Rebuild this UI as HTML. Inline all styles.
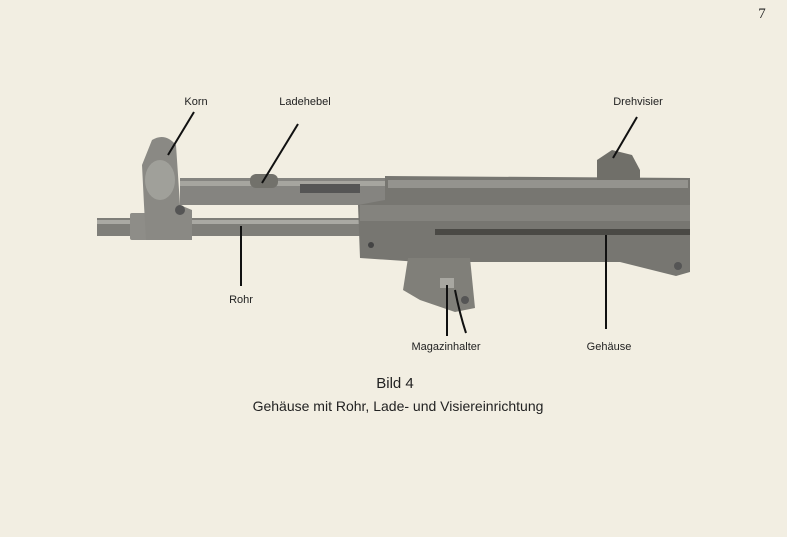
<!DOCTYPE html>
<html><head><meta charset="utf-8"><style>
html,body{margin:0;padding:0;background:#f2eee2;}
svg{display:block}
text{font-family:"Liberation Sans",sans-serif;fill:#222}
</style></head><body>
<svg width="787" height="537" viewBox="0 0 787 537" xmlns="http://www.w3.org/2000/svg">
<rect width="787" height="537" fill="#f2eee2"/>
<text x="762" y="18" style="font-family:'Liberation Serif',serif" font-size="15" text-anchor="middle">7</text>
<!-- barrel -->
<rect x="97" y="218" width="265" height="18" fill="#7f7e79"/>
<rect x="97" y="220" width="265" height="4" fill="#aaa9a3"/>
<rect x="130" y="213" width="18" height="27" rx="2" fill="#8e8d88"/>
<!-- cocking tube -->
<rect x="180" y="178" width="210" height="27" fill="#858480"/>
<rect x="180" y="181" width="210" height="5" fill="#a6a59f"/>
<rect x="250" y="174" width="28" height="14" rx="6" fill="#72716b"/>
<rect x="300" y="184" width="60" height="9" fill="#555"/>
<!-- front sight -->
<path d="M152 140 Q165 132 176 145 L180 205 L192 210 L192 240 L146 240 L144 205 L142 165 Z" fill="#8a8984"/>
<ellipse cx="160" cy="180" rx="15" ry="20" fill="#a0a09a"/>
<circle cx="180" cy="210" r="5" fill="#555"/>
<!-- receiver -->
<path d="M385 176 L690 178 L690 272 L676 276 L620 262 L420 262 L360 258 L358 205 L385 200 Z" fill="#777671"/>
<rect x="388" y="180" width="300" height="8" fill="#94938e"/>
<rect x="360" y="205" width="330" height="16" fill="#84837e"/>
<rect x="435" y="229" width="255" height="6" fill="#4a4945"/>
<circle cx="371" cy="245" r="3" fill="#444"/>
<circle cx="678" cy="266" r="4" fill="#555"/>
<!-- rear sight -->
<path d="M597 160 L612 150 L632 155 L640 170 L640 180 L597 180 Z" fill="#706f69"/>
<!-- magazine housing -->
<path d="M408 258 L470 258 L475 308 L455 312 L420 300 L403 290 Z" fill="#807f79"/>
<rect x="440" y="278" width="14" height="10" fill="#a8a7a1"/>
<circle cx="465" cy="300" r="4" fill="#555"/>
<!-- leader lines -->
<g stroke="#111" stroke-width="2" fill="none">
<line x1="194" y1="112" x2="168" y2="155"/>
<line x1="298" y1="124" x2="262" y2="183"/>
<line x1="637" y1="117" x2="613" y2="158"/>
<line x1="241" y1="226" x2="241" y2="286"/>
<line x1="447" y1="285" x2="447" y2="336"/>
<path d="M455 290 Q460 315 466 333"/>
<line x1="606" y1="235" x2="606" y2="329"/>
</g>
<g font-size="11">
<text x="196" y="105" text-anchor="middle">Korn</text>
<text x="305" y="105" text-anchor="middle">Ladehebel</text>
<text x="638" y="105" text-anchor="middle">Drehvisier</text>
<text x="241" y="303" text-anchor="middle">Rohr</text>
<text x="446" y="350" text-anchor="middle">Magazinhalter</text>
<text x="609" y="350" text-anchor="middle">Gehäuse</text>
</g>
<text x="395" y="388" font-size="15" text-anchor="middle">Bild 4</text>
<text x="398" y="411" font-size="14" text-anchor="middle">Gehäuse mit Rohr, Lade- und Visiereinrichtung</text>
</svg>
</body></html>
